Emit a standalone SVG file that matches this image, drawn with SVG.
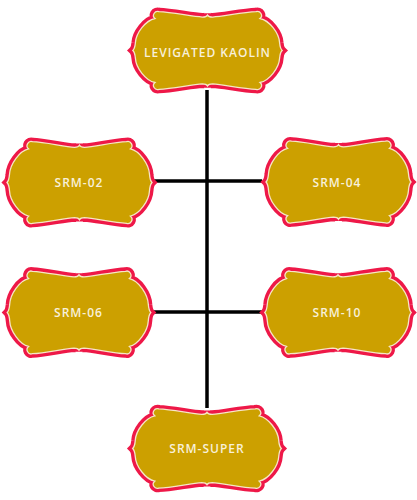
<svg xmlns="http://www.w3.org/2000/svg" xmlns:xlink="http://www.w3.org/1999/xlink" width="417" height="500" viewBox="0 0 417 500">
<style>
.outer{fill:#EE1848;stroke:#EE1848;stroke-width:8;stroke-linejoin:miter;stroke-miterlimit:2}
.inner{fill:#CCA000;stroke:#F6E7C6;stroke-width:1.3}
.lbl{font-family:"Open Sans","Liberation Sans",sans-serif;font-weight:600;font-size:12px;letter-spacing:1px;fill:#F8F0DA;text-anchor:middle}
.conn{stroke:#000;stroke-width:3.5;fill:none}
</style>
<defs>
<path id="frame" vector-effect="non-scaling-stroke" d="M -72.5,0 Q -70.5,-2 -70,-8 C -69.5,-18 -60,-31 -51,-33 A 4.1 4.1 0 0 1 -47,-40 C -34,-39.5 -15,-35 -5,-34.5 Q -1,-34.5 0,-36.5 Q 1,-34.5 5,-34.5 C 15,-35 34,-39.5 47,-40 A 4.1 4.1 0 0 1 51,-33 C 60,-31 69.5,-18 70,-8 Q 70.5,-2 72.5,0 Q 70.5,2 70,8 C 69.5,18 60,31 51,33 A 4.1 4.1 0 0 1 47,40 C 34,39.5 15,35 5,34.5 Q 1,34.5 0,36.5 Q -1,34.5 -5,34.5 C -15,35 -34,39.5 -47,40 A 4.1 4.1 0 0 1 -51,33 C -60,31 -69.5,18 -70,8 Q -70.5,2 -72.5,0 Z"/>
</defs>
<g id="connectors">
<line class="conn" x1="207" y1="90" x2="207" y2="408"/>
<line class="conn" x1="154" y1="181" x2="262" y2="181"/>
<line class="conn" x1="154" y1="312" x2="262" y2="312"/>
</g>
<g id="levigated-kaolin">
<g transform="translate(207.5,50.5) scale(1.03,0.97)"><use xlink:href="#frame" class="outer"/><use xlink:href="#frame" class="inner"/></g>
<text class="lbl" x="207.5" y="56.5">LEVIGATED KAOLIN</text>
</g>
<g id="srm-02">
<g transform="translate(79.5,182.5) scale(1.0,1.02)"><use xlink:href="#frame" class="outer"/><use xlink:href="#frame" class="inner"/></g>
<text class="lbl" x="79" y="186.5">SRM-02</text>
</g>
<g id="srm-04">
<g transform="translate(338.5,182) scale(1.0,1.02)"><use xlink:href="#frame" class="outer"/><use xlink:href="#frame" class="inner"/></g>
<text class="lbl" x="337" y="186.5">SRM-04</text>
</g>
<g id="srm-06">
<g transform="translate(79,312.5) scale(0.99,1.03)"><use xlink:href="#frame" class="outer"/><use xlink:href="#frame" class="inner"/></g>
<text class="lbl" x="78.5" y="316.5">SRM-06</text>
</g>
<g id="srm-10">
<g transform="translate(338,312.5) scale(1.01,1.03)"><use xlink:href="#frame" class="outer"/><use xlink:href="#frame" class="inner"/></g>
<text class="lbl" x="337" y="316.5">SRM-10</text>
</g>
<g id="srm-super">
<g transform="translate(207,448.5) scale(1.025,0.99)"><use xlink:href="#frame" class="outer"/><use xlink:href="#frame" class="inner"/></g>
<text class="lbl" x="207" y="453.3">SRM-SUPER</text>
</g>
</svg>
